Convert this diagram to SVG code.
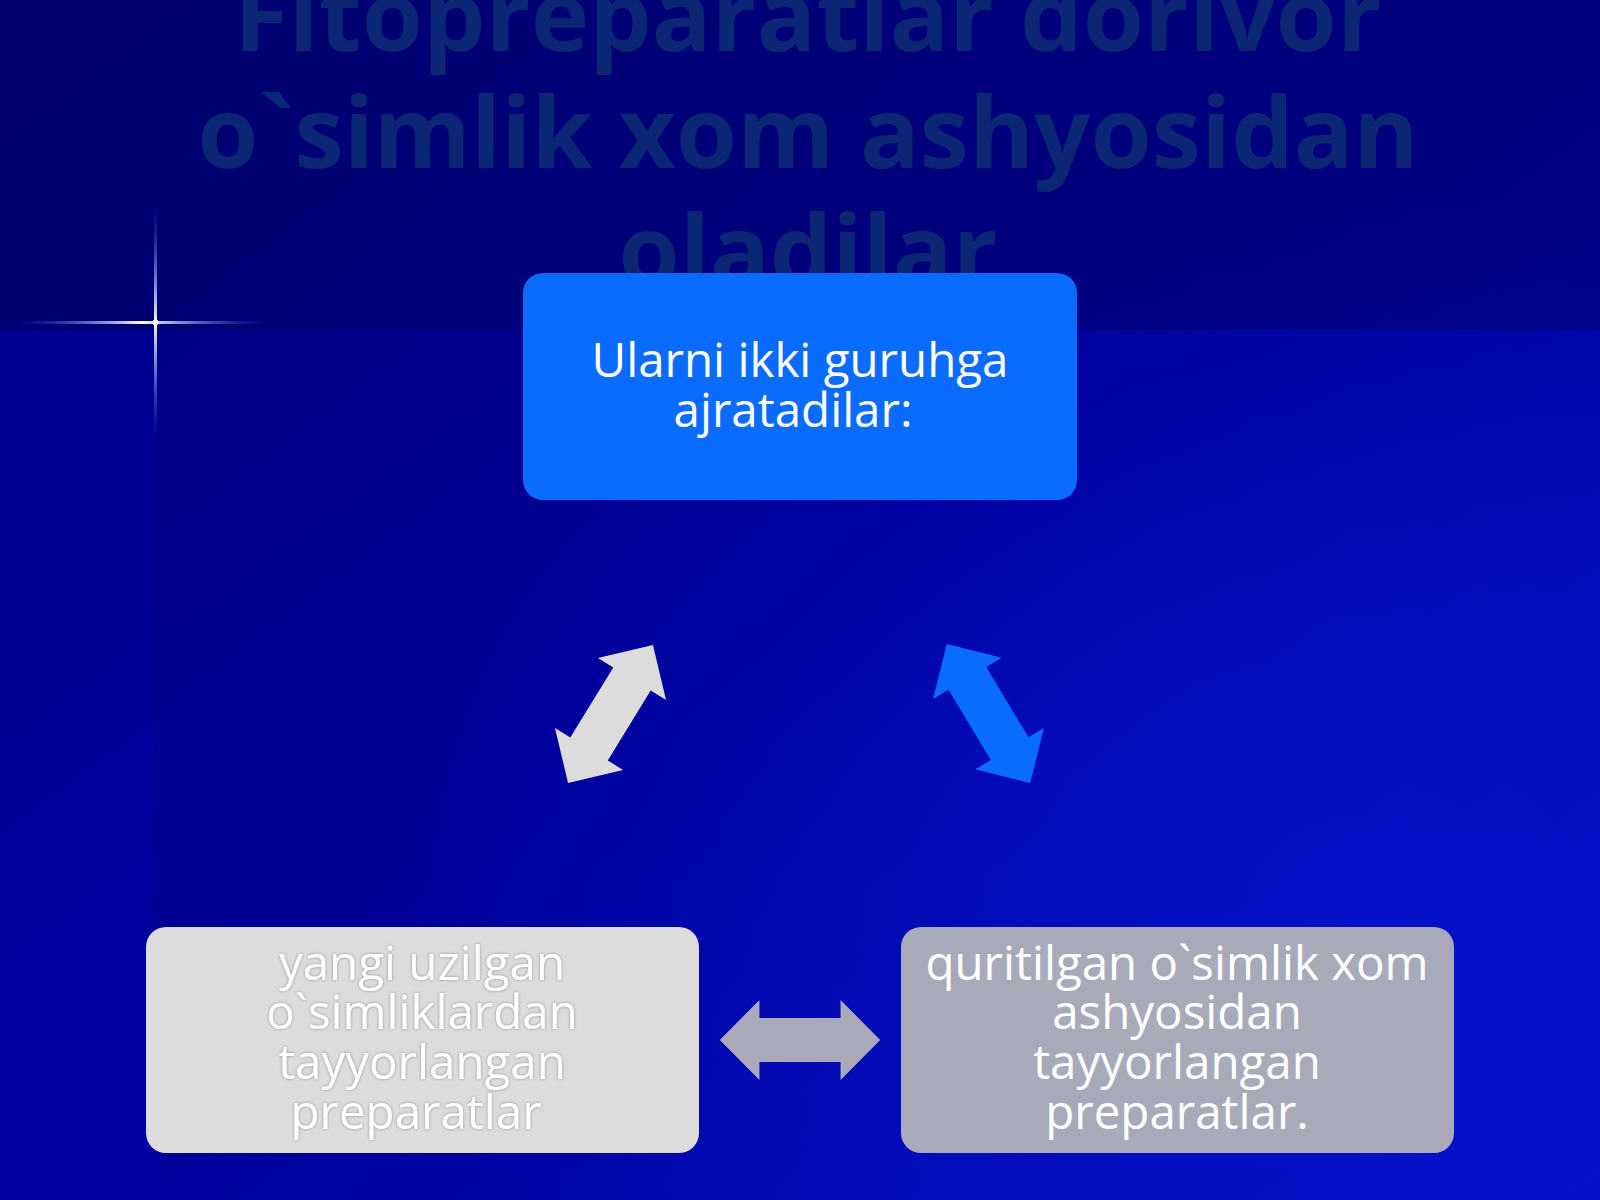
<svg xmlns="http://www.w3.org/2000/svg" width="1600" height="1200" viewBox="0 0 1600 1200">
<defs>
<linearGradient id="bg" x1="0" y1="0" x2="1" y2="1">
<stop offset="0" stop-color="#00007c"/>
<stop offset="0.5" stop-color="#000098"/>
<stop offset="1" stop-color="#0410c4"/>
</linearGradient>
<radialGradient id="glow" cx="0.85" cy="0.75" r="0.6">
<stop offset="0" stop-color="#0818d8" stop-opacity="0.6"/>
<stop offset="1" stop-color="#0818d8" stop-opacity="0"/>
</radialGradient>
<linearGradient id="starH" x1="0" y1="0" x2="1" y2="0">
<stop offset="0" stop-color="#2060ff" stop-opacity="0"/>
<stop offset="0.5" stop-color="#ffffff"/>
<stop offset="1" stop-color="#2060ff" stop-opacity="0"/>
</linearGradient>
<linearGradient id="starV" x1="0" y1="0" x2="0" y2="1">
<stop offset="0" stop-color="#2060ff" stop-opacity="0"/>
<stop offset="0.5" stop-color="#ffffff"/>
<stop offset="1" stop-color="#2060ff" stop-opacity="0"/>
</linearGradient>
<filter id="soft" x="-10%" y="-10%" width="120%" height="120%">
<feDropShadow dx="0" dy="0" stdDeviation="1.5" flood-color="#6b6b6b" flood-opacity="0.7"/>
</filter>
<path id="dblArrow" d="M-81,0 L-41,-40 L-41,-22 L41,-22 L41,-40 L81,0 L41,40 L41,22 L-41,22 L-41,40 Z"/>
</defs>
<style>
.title{font-family:"Open Sans","Noto Sans","DejaVu Sans",sans-serif;font-weight:bold;font-size:99px;fill:#0a2674;text-anchor:middle}
.lbl{font-family:"Open Sans","Noto Sans","DejaVu Sans",sans-serif;font-size:47.5px;fill:#ffffff;text-anchor:middle}
.box{stroke:none}
</style>
<rect x="0" y="0" width="1600" height="1200" fill="url(#bg)"/>
<rect x="0" y="0" width="1600" height="1200" fill="url(#glow)"/>
<rect x="0" y="0" width="1600" height="330" fill="#00005c" opacity="0.4"/>
<rect x="0" y="330" width="155" height="870" fill="#0000c8" opacity="0.18"/>
<g id="star">
<rect x="17" y="321" width="250" height="3" fill="url(#starH)"/>
<rect x="154" y="205" width="3" height="235" fill="url(#starV)"/>
<circle cx="155.5" cy="322.5" r="3" fill="#ffffff"/>
</g>
<g id="title">
<text class="title" x="808" y="51">Fitopreparatlar dorivor</text>
<text class="title" x="808" y="168">o`simlik xom ashyosidan</text>
<text class="title" x="808" y="286">oladilar</text>
</g>
<g id="connectors">
<use href="#dblArrow" fill="#dcdcdc" transform="translate(610.5,714) rotate(-58.4)"/>
<use href="#dblArrow" fill="#0a6cff" transform="translate(988.5,713.5) rotate(59)"/>
<use href="#dblArrow" fill="#a8aab9" transform="translate(800,1040) scale(0.99,1)"/>
</g>
<g id="node-top">
<rect class="box" x="523" y="273" width="554" height="227" rx="20" fill="#0a6cff"/>
<text class="lbl" x="800" y="377">Ularni ikki guruhga</text>
<text class="lbl" x="793" y="427">ajratadilar:</text>
</g>
<g id="node-left">
<rect class="box" x="146" y="927" width="553" height="226" rx="20" fill="#dcdcdd"/>
<g filter="url(#soft)">
<text class="lbl" x="422" y="980">yangi uzilgan</text>
<text class="lbl" x="422" y="1029">o`simliklardan</text>
<text class="lbl" x="422" y="1079">tayyorlangan</text>
<text class="lbl" x="416" y="1129">preparatlar</text>
</g>
</g>
<g id="node-right">
<rect class="box" x="901" y="927" width="553" height="226" rx="20" fill="#a8aab9"/>
<text class="lbl" x="1177" y="980">quritilgan o`simlik xom</text>
<text class="lbl" x="1177" y="1029">ashyosidan</text>
<text class="lbl" x="1177" y="1079">tayyorlangan</text>
<text class="lbl" x="1177" y="1129">preparatlar.</text>
</g>
</svg>
